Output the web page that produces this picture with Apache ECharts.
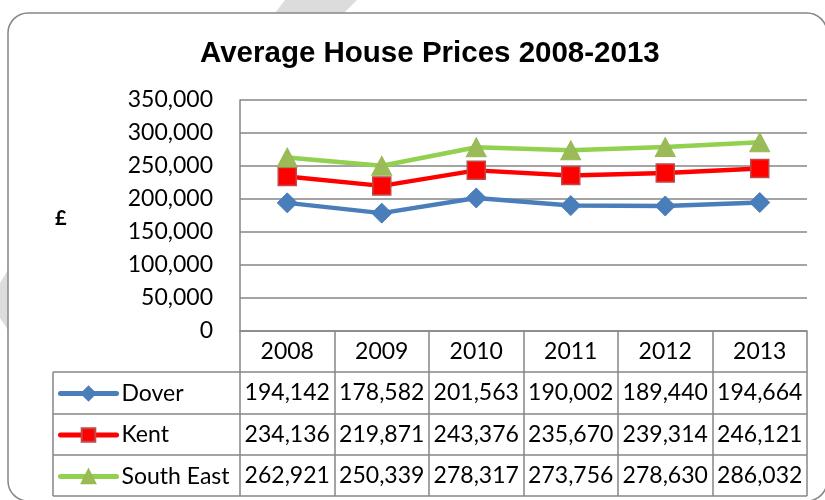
<!DOCTYPE html>
<html>
<head>
<meta charset="utf-8">
<script src="https://cdn.jsdelivr.net/npm/echarts@6/dist/echarts.min.js"></script>
<style>
html,body{margin:0;padding:0;background:#fff;}
#chart{width:825px;height:500px;}
</style>
</head>
<body>
<div id="chart"></div>
<script>
// ---- data ----
const years = ['2008', '2009', '2010', '2011', '2012', '2013'];
const seriesNames = ['Dover', 'Kent', 'South East'];
const dover = [194142, 178582, 201563, 190002, 189440, 194664];
const kent = [234136, 219871, 243376, 235670, 239314, 246121];
const southEast = [262921, 250339, 278317, 273756, 278630, 286032];
const yTicks = [0, 50000, 100000, 150000, 200000, 250000, 300000, 350000];
const titleText = 'Average House Prices 2008-2013';
const yAxisName = '£';

// ---- helpers ----
const fmt = v => Number(v).toLocaleString('en-US');
const rows = [dover, kent, southEast];
const grey = '#868686';
const cellFont = 'Lato';
const cellSize = 23;

const chart = echarts.init(document.getElementById('chart'), null, {renderer: 'canvas'});

const rowOffsets = [41, 82.5, 123.5];
const extraXAxes = rows.map((row, i) => ({
  type: 'category',
  data: years,
  position: 'bottom',
  offset: rowOffsets[i],
  axisLine: {show: false},
  axisTick: {show: false},
  splitLine: {show: false},
  axisLabel: {
    interval: 0,
    margin: 9.5,
    color: '#000',
    fontFamily: cellFont,
    fontSize: cellSize,
    lineHeight: 23,
    formatter: (v, idx) => fmt(row[idx])
  }
}));

const legendTops = [382, 423.5, 465];
const legends = seriesNames.map((name, i) => ({
  orient: 'vertical',
  left: 58,
  top: legendTops[i],
  padding: 0,
  itemWidth: 56,
  itemHeight: 17,
  itemGap: 4,
  data: [name],
  lineStyle: {width: 5, cap: 'round'},
  textStyle: {
    fontFamily: cellFont,
    fontSize: cellSize,
    color: '#000',
    lineHeight: 20
  }
}));

const option = {
  backgroundColor: '#fff',
  animation: false,
  title: {
    text: titleText,
    left: 195,
    top: 34,
    textStyle: {
      fontFamily: 'Liberation Sans',
      fontWeight: 'bold',
      fontSize: 29.5,
      color: '#000'
    }
  },
  legend: legends,
  grid: {
    left: 240,
    right: 18,
    top: 100,
    bottom: 169,
    containLabel: false
  },
  xAxis: [{
    type: 'category',
    data: years,
    position: 'bottom',
    boundaryGap: true,
    axisLine: {show: true, lineStyle: {color: grey, width: 1.5}},
    axisTick: {show: true, interval: 0, length: 165, lineStyle: {color: grey, width: 1.5}},
    axisLabel: {
      interval: 0,
      margin: 9.5,
      color: '#000',
      fontFamily: cellFont,
      fontSize: cellSize,
      lineHeight: 23
    },
    splitLine: {show: false}
  }].concat(extraXAxes),
  yAxis: {
    type: 'value',
    min: yTicks[0],
    max: yTicks[yTicks.length - 1],
    interval: yTicks[1] - yTicks[0],
    axisLine: {show: true, lineStyle: {color: grey, width: 1.5}},
    axisTick: {show: false},
    splitLine: {show: true, lineStyle: {color: grey, width: 1.5}},
    axisLabel: {
      margin: 27,
      color: '#000',
      fontFamily: cellFont,
      fontSize: cellSize,
      formatter: v => fmt(v)
    }
  },
  series: [
    {
      name: seriesNames[0],
      type: 'line',
      data: dover,
      symbol: 'diamond',
      symbolSize: 20,
      lineStyle: {color: '#4a7ebb', width: 4.5},
      itemStyle: {color: '#4a7ebb', borderColor: '#4a7ebb', borderWidth: 1}
    },
    {
      name: seriesNames[1],
      type: 'line',
      data: kent,
      symbol: 'rect',
      symbolSize: 18,
      lineStyle: {color: '#ff0000', width: 4.5},
      itemStyle: {color: '#ff0000', borderColor: '#be4b48', borderWidth: 1.5}
    },
    {
      name: seriesNames[2],
      type: 'line',
      data: southEast,
      symbol: 'triangle',
      symbolSize: [20, 19],
      lineStyle: {color: '#92d050', width: 4.5},
      itemStyle: {color: '#9bbb59', borderColor: '#98b954', borderWidth: 1}
    }
  ],
  graphic: [
    // background decorative stripes
    {type: 'polygon', z: -10, shape: {points: [[285, 0], [357, 0], [344, 13], [275, 13]]}, style: {fill: '#dcdcdc'}},
    {type: 'polygon', z: -10, shape: {points: [[8, 270], [8, 330], [0, 318], [0, 283]]}, style: {fill: '#dcdcdc'}},
    // chart border
    {type: 'rect', z: -5, shape: {x: 8, y: 13, width: 819, height: 488, r: 20},
     style: {fill: '#fff', stroke: grey, lineWidth: 1.5}},
    // table lines
    {type: 'line', shape: {x1: 53, y1: 372, x2: 807, y2: 372}, style: {stroke: grey, lineWidth: 1.5}},
    {type: 'line', shape: {x1: 53, y1: 414, x2: 807, y2: 414}, style: {stroke: grey, lineWidth: 1.5}},
    {type: 'line', shape: {x1: 53, y1: 455, x2: 807, y2: 455}, style: {stroke: grey, lineWidth: 1.5}},
    {type: 'line', shape: {x1: 53, y1: 496, x2: 807, y2: 496}, style: {stroke: grey, lineWidth: 1.5}},
    {type: 'line', shape: {x1: 53, y1: 372, x2: 53, y2: 496}, style: {stroke: grey, lineWidth: 1.5}},
    // y axis name
    {type: 'text', left: 55, top: 209, style: {text: yAxisName, fontFamily: 'Lato', fontWeight: 'bold', fontSize: 20, fill: '#000'}}
  ]
};

chart.setOption(option);
</script>
</body>
</html>
